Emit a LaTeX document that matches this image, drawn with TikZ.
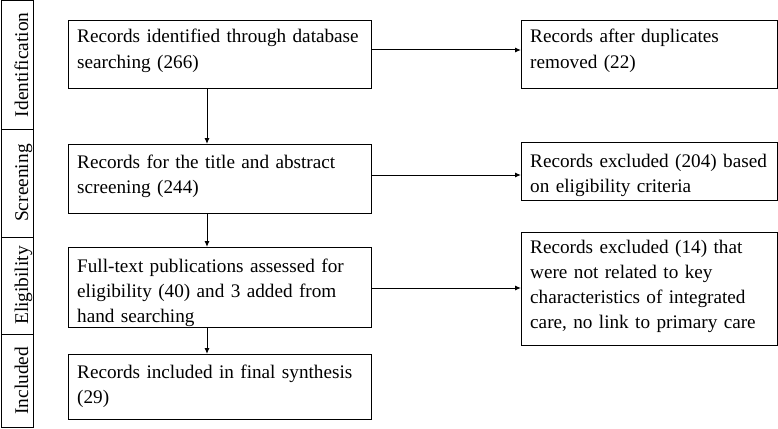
\documentclass[tikz,border=0pt]{standalone}
\usepackage{fontspec}
\setmainfont{Liberation Serif}
\usetikzlibrary{arrows.meta}
\begin{document}
\begin{tikzpicture}[x=1pt,y=1pt,
  box/.style={draw=black, line width=1pt, inner sep=0pt, anchor=north west},
  txt/.style={inner sep=0pt, anchor=base west, align=left, text width=#1,
    font=\fontsize{19.2}{25}\selectfont},
  side/.style={draw=black, line width=1pt, rotate=90, inner sep=0pt,
    minimum height=32pt, text height=22pt, text depth=0pt,
    font=\fontsize{19.4}{25}\selectfont},
  arr/.style={line width=1pt, -{Latex[length=6pt,width=5pt]}}]
\useasboundingbox (0,0) rectangle (778,-428);

% stage sidebar
\node[side, minimum width=128.5pt] (s1) at (17,-64.75) {Identification};
\node[side, minimum width=108pt] (s2) at (17,-183) {Screening};
\node[side, minimum width=97pt] (s3) at (17,-285.5) {Eligibility};
\node[side, minimum width=93.5pt] (s4) at (17,-380.75) {Included};

% left column boxes
\node[box, minimum width=303pt, minimum height=68pt] (b1) at (68,-20) {};
\node[box, minimum width=303pt, minimum height=69pt] (b2) at (68,-144) {};
\node[box, minimum width=303pt, minimum height=80pt] (b3) at (68,-247) {};
\node[box, minimum width=303pt, minimum height=65pt] (b4) at (68,-354) {};

\node[txt=292pt] (t1) at (77,-43) {Records identified through database\\searching (266)};
\node[txt=292pt] (t2) at (77,-168) {Records for the title and abstract\\screening (244)};
\node[txt=292pt] (t3) at (77,-272) {Full-text publications assessed for\\eligibility (40) and 3 added from\\hand searching};
\node[txt=292pt] (t4) at (77,-378) {Records included in final synthesis\\(29)};

% right column boxes
\node[box, minimum width=256pt, minimum height=68pt] (r1) at (521,-20) {};
\node[box, minimum width=256pt, minimum height=58pt] (r2) at (521,-142) {};
\node[box, minimum width=256pt, minimum height=113pt] (r3) at (521,-232) {};

\node[txt=245pt] (u1) at (530,-43) {Records after duplicates\\removed (22)};
\node[txt=245pt] (u2) at (530,-167) {Records excluded (204) based\\on eligibility criteria};
\node[txt=245pt] (u3) at (530,-253) {Records excluded (14) that\\were not related to key\\characteristics of integrated\\care, no link to primary care};

% connectors
\coordinate (ax) at (207,0);
\coordinate (h1) at (0,-50);
\coordinate (h2) at (0,-175);
\coordinate (h3) at (0,-288);

\draw[arr] (b1.south -| ax) -- (b2.north -| ax);
\draw[arr] (b2.south -| ax) -- (b3.north -| ax);
\draw[arr] (b3.south -| ax) -- (b4.north -| ax);

\draw[arr] (b1.east |- h1) -- (r1.west |- h1);
\draw[arr] (b2.east |- h2) -- (r2.west |- h2);
\draw[arr] (b3.east |- h3) -- (r3.west |- h3);
\end{tikzpicture}
\end{document}
